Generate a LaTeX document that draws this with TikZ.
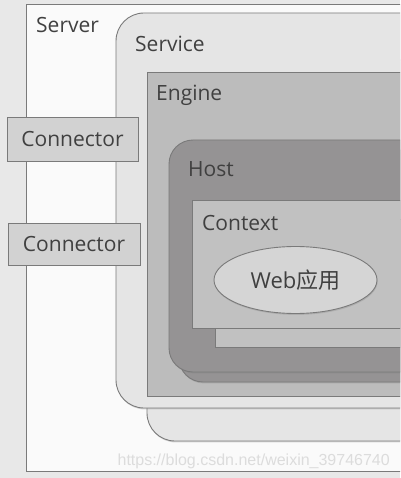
\documentclass[tikz,border=0pt]{standalone}
\usepackage{fontspec}
\setmainfont{Open Sans}
\newfontfamily\cjkfont{Noto Sans CJK SC}
\newfontfamily\wmfont{Liberation Sans}
\usetikzlibrary{shadows,shapes.geometric}
\definecolor{bgc}{HTML}{E8E8E8}
\definecolor{serverc}{HTML}{FAFAFA}
\definecolor{servicec}{HTML}{E5E5E5}
\definecolor{enginec}{HTML}{BCBCBC}
\definecolor{hostc}{HTML}{959394}
\definecolor{contextc}{HTML}{C1C1C1}
\definecolor{webc}{HTML}{D5D5D5}
\definecolor{connc}{HTML}{D2D2D2}
\definecolor{linec}{HTML}{7A7A7A}
\definecolor{txtc}{HTML}{404040}
\definecolor{wmc}{HTML}{DCDCDC}
\tikzset{
  box/.style={draw=linec, line width=0.9pt,
    drop shadow={shadow xshift=0.6pt, shadow yshift=-1.4pt, opacity=0.3}},
  lbl/.style={anchor=base west, text=txtc, inner sep=0pt,
    font=\fontsize{21pt}{24pt}\selectfont},
  connbox/.style={box, fill=connc, rectangle, text=txtc, inner sep=0pt,
    font=\fontsize{21pt}{24pt}\selectfont},
}
\begin{document}
\begin{tikzpicture}[x=1pt,y=-1pt]
\useasboundingbox (0,0) rectangle (400,478);
\clip (0,0) rectangle (400,478);
\fill[bgc] (0,0) rectangle (400,478);
% Server
\draw[box, fill=serverc] (26,4) rectangle (430,471);
% Service (back copy and front)
\draw[box, fill=servicec, rounded corners=28pt] (147,60) rectangle (440,441);
\draw[box, fill=servicec, rounded corners=28pt] (116,13) rectangle (440,408);
% Engine
\draw[box, fill=enginec] (147,72) rectangle (440,396);
% Host (back copy and front)
\draw[box, fill=hostc, rounded corners=24pt] (179,150) rectangle (440,382);
\draw[box, fill=hostc, rounded corners=24pt] (169,140) rectangle (440,372);
% Context (back copy and front)
\draw[box, fill=contextc] (215,219) rectangle (440,347);
\draw[box, fill=contextc] (192,200) rectangle (440,328);
% Web app
\node[box, fill=webc, ellipse, minimum width=163pt, minimum height=67pt,
  inner sep=0pt, text=txtc, font=\fontsize{22pt}{24pt}\selectfont]
  (web) at (295.5,280) {Web{\cjkfont 应用}};
% Labels
\node[lbl] (server) at (36,33) {Server};
\node[lbl] (service) at (135,51.5) {Service};
\node[lbl] (engine) at (156,101) {Engine};
\node[lbl] (host) at (188,176.5) {Host};
\node[lbl] (context) at (202,230) {Context};
% Connectors
\node[connbox, minimum width=131pt, minimum height=44pt] (conn1) at (72.5,139) {Connector};
\node[connbox, minimum width=132pt, minimum height=42pt] (conn2) at (74,244) {Connector};
% Watermark
\node[anchor=base east, inner sep=0pt, text=wmc,
  font=\wmfont\fontsize{16pt}{18pt}\selectfont] (wm) at (390,465)
  {https://blog.csdn.net/weixin\_39746740};
\end{tikzpicture}
\end{document}
